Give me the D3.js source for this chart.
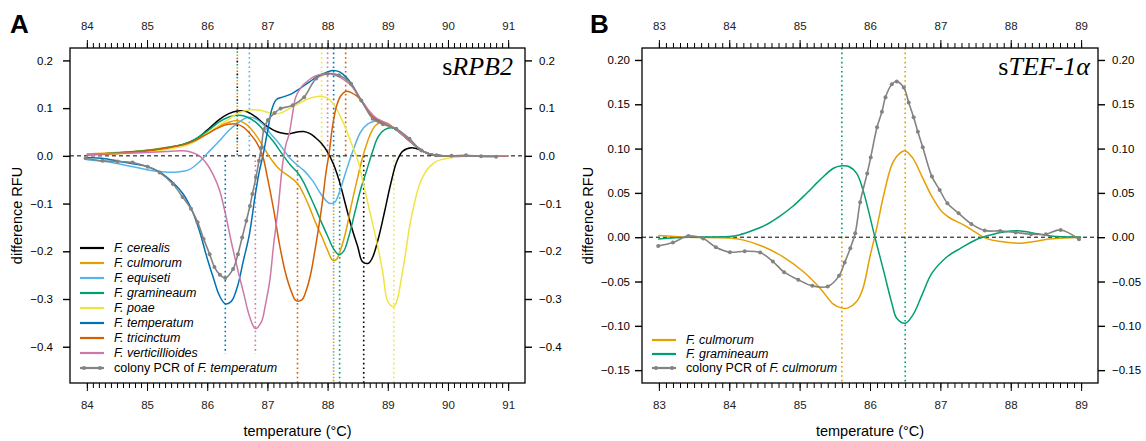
<!DOCTYPE html>
<html>
<head>
<meta charset="utf-8">
<script src="https://cdn.jsdelivr.net/npm/d3@7"></script>
<style>
  body { margin: 0; background: #fff; }
  svg { display: block; }
</style>
</head>
<body>
<div id="chart"></div>
<script>
// ===== 图A (sRPB2) 数据 =====
const axisA_x = d3.range(84, 92);
const axisA_y = [-0.4, -0.3, -0.2, -0.1, 0.0, 0.1, 0.2];
const speciesA = ["cerealis", "culmorum", "equiseti", "gramineaum", "poae", "temperatum", "tricinctum", "verticillioides"];

// 多条曲线共用的尾部
const tailA = [[89.1, 0.058], [89.2, 0.049], [89.3, 0.038], [89.4, 0.027], [89.5, 0.017], [89.6, 0.009],
  [89.7, 0.004], [89.85, 0.001], [90.0, 0.0], [90.5, 0.0], [91.0, 0.0]];

const cerealisA = [[84.0, 0.003], [84.5, 0.006], [85.0, 0.011], [85.3, 0.016], [85.6, 0.024], [85.8, 0.034],
  [86.0, 0.054], [86.2, 0.076], [86.35, 0.088], [86.5, 0.094], [86.65, 0.093], [86.8, 0.082], [86.95, 0.066],
  [87.1, 0.054], [87.2, 0.049], [87.35, 0.046], [87.5, 0.050], [87.6, 0.051], [87.7, 0.047], [87.8, 0.038],
  [87.9, 0.026], [88.0, 0.008], [88.1, -0.018], [88.2, -0.055], [88.3, -0.103], [88.4, -0.150], [88.5, -0.190],
  [88.58, -0.222], [88.68, -0.225], [88.75, -0.212], [88.85, -0.170], [88.95, -0.115], [89.05, -0.058],
  [89.15, -0.012], [89.25, 0.010], [89.4, 0.017], [89.55, 0.012], [89.7, 0.003], [89.9, 0.0], [90.5, 0.0], [91.0, 0.0]];

const culmorumA = [[84.0, 0.004], [84.5, 0.007], [85.0, 0.012], [85.3, 0.017], [85.6, 0.024], [85.8, 0.033],
  [86.0, 0.047], [86.2, 0.062], [86.35, 0.070], [86.5, 0.074], [86.65, 0.066], [86.8, 0.045], [86.95, 0.015],
  [87.05, -0.005], [87.2, -0.028], [87.35, -0.042], [87.5, -0.058], [87.6, -0.080], [87.7, -0.108], [87.8, -0.140],
  [87.9, -0.168], [88.0, -0.198], [88.08, -0.218], [88.14, -0.218], [88.22, -0.195], [88.3, -0.160], [88.4, -0.100],
  [88.5, -0.045], [88.58, -0.004], [88.65, 0.025], [88.72, 0.048], [88.8, 0.064], [88.9, 0.071], [89.0, 0.068]].concat(tailA);

const equisetiA = [[84.0, -0.008], [84.3, -0.012], [84.66, -0.020], [85.0, -0.029], [85.3, -0.034], [85.5, -0.034],
  [85.7, -0.029], [85.85, -0.015], [86.0, 0.005], [86.2, 0.031], [86.35, 0.052], [86.5, 0.068], [86.62, 0.078],
  [86.7, 0.081], [86.8, 0.078], [86.92, 0.067], [87.05, 0.047], [87.2, 0.025], [87.36, -0.003], [87.5, -0.020],
  [87.6, -0.030], [87.75, -0.052], [87.9, -0.082], [88.0, -0.097], [88.05, -0.100], [88.12, -0.097], [88.2, -0.075],
  [88.3, -0.035], [88.42, 0.010], [88.55, 0.050], [88.67, 0.067], [88.8, 0.073], [88.9, 0.071], [89.0, 0.066]].concat(tailA);

const gramineaumA = [[84.0, 0.002], [84.5, 0.006], [85.0, 0.011], [85.3, 0.017], [85.6, 0.024], [85.8, 0.035],
  [86.0, 0.052], [86.2, 0.071], [86.35, 0.081], [86.5, 0.085], [86.65, 0.082], [86.8, 0.071], [86.95, 0.052],
  [87.1, 0.030], [87.25, 0.003], [87.4, -0.022], [87.5, -0.035], [87.6, -0.055], [87.7, -0.082], [87.8, -0.110],
  [87.9, -0.140], [88.0, -0.168], [88.1, -0.195], [88.19, -0.207], [88.27, -0.199], [88.35, -0.170], [88.45, -0.120],
  [88.55, -0.070], [88.65, -0.030], [88.75, 0.010], [88.82, 0.035], [88.9, 0.050], [89.0, 0.058]].concat(tailA);

const poaeA = [[84.0, 0.001], [84.5, 0.004], [85.0, 0.008], [85.3, 0.013], [85.6, 0.020], [85.8, 0.030],
  [86.0, 0.047], [86.2, 0.064], [86.35, 0.076], [86.5, 0.089], [86.65, 0.095], [86.76, 0.0965], [86.9, 0.095],
  [87.05, 0.090], [87.2, 0.089], [87.35, 0.098], [87.5, 0.108], [87.65, 0.118], [87.8, 0.124], [87.9, 0.1245],
  [88.0, 0.121], [88.1, 0.108], [88.2, 0.086], [88.3, 0.058], [88.4, 0.025], [88.5, -0.008], [88.58, -0.050],
  [88.67, -0.100], [88.75, -0.143], [88.85, -0.200], [88.92, -0.247], [89.0, -0.305], [89.1, -0.316],
  [89.16, -0.300], [89.22, -0.261], [89.3, -0.200], [89.36, -0.150], [89.45, -0.095], [89.53, -0.059],
  [89.62, -0.035], [89.7, -0.022], [89.8, -0.012], [89.92, -0.007], [90.1, -0.003], [90.3, -0.001], [91.0, 0.0]];

const temperatumA = [[84.0, -0.0035], [84.3, -0.006], [84.65, -0.014], [85.0, -0.022], [85.2, -0.033],
  [85.43, -0.056], [85.6, -0.080], [85.75, -0.115], [85.87, -0.157], [86.0, -0.215], [86.1, -0.255],
  [86.2, -0.292], [86.3, -0.310], [86.4, -0.305], [86.5, -0.275], [86.6, -0.220], [86.7, -0.165], [86.8, -0.080],
  [86.87, -0.030], [86.93, 0.003], [87.0, 0.050], [87.08, 0.100], [87.15, 0.118], [87.25, 0.123], [87.4, 0.130],
  [87.55, 0.142], [87.7, 0.155], [87.85, 0.168], [88.0, 0.176], [88.09, 0.179], [88.2, 0.176], [88.3, 0.166],
  [88.4, 0.150], [88.5, 0.127], [88.6, 0.108], [88.7, 0.091], [88.8, 0.078], [88.9, 0.071], [89.0, 0.066]].concat(tailA);

const tricinctumA = [[84.0, 0.002], [84.5, 0.005], [85.0, 0.010], [85.3, 0.016], [85.6, 0.023], [85.8, 0.032],
  [86.0, 0.046], [86.2, 0.060], [86.35, 0.066], [86.48, 0.067], [86.6, 0.060], [86.72, 0.045], [86.82, 0.028],
  [86.92, 0.0], [87.0, -0.045], [87.1, -0.110], [87.2, -0.185], [87.3, -0.245], [87.4, -0.285], [87.47, -0.303],
  [87.57, -0.302], [87.65, -0.280], [87.72, -0.247], [87.8, -0.190], [87.86, -0.143], [87.92, -0.090],
  [87.97, -0.038], [88.03, 0.010], [88.08, 0.060], [88.15, 0.105], [88.22, 0.126], [88.3, 0.135], [88.4, 0.132],
  [88.5, 0.124], [88.6, 0.110], [88.7, 0.090], [88.8, 0.076], [88.9, 0.070], [89.0, 0.066]].concat(tailA);

const verticillioidesA = [[84.0, 0.003], [84.5, 0.005], [85.0, 0.007], [85.3, 0.009], [85.6, 0.0105],
  [85.75, 0.007], [85.87, 0.0], [86.0, -0.018], [86.1, -0.040], [86.2, -0.070], [86.3, -0.120], [86.4, -0.180],
  [86.5, -0.235], [86.6, -0.285], [86.7, -0.335], [86.8, -0.362], [86.9, -0.348], [86.97, -0.310], [87.04, -0.261],
  [87.1, -0.190], [87.18, -0.108], [87.25, -0.020], [87.31, 0.025], [87.36, 0.045], [87.42, 0.090], [87.47, 0.123],
  [87.58, 0.147], [87.7, 0.160], [87.81, 0.168], [87.9, 0.171], [88.0, 0.172], [88.1, 0.170], [88.2, 0.165],
  [88.3, 0.157], [88.4, 0.146], [88.5, 0.128], [88.6, 0.110], [88.7, 0.093], [88.8, 0.080], [88.9, 0.073], [89.0, 0.067]].concat(tailA);

// colony PCR (F. temperatum), 带点
const colonyA = [[83.98, -0.005], [84.26, -0.0105], [84.51, -0.012], [84.76, -0.014], [85.01, -0.023],
  [85.21, -0.035], [85.43, -0.059], [85.59, -0.086], [85.73, -0.111], [85.84, -0.139], [85.94, -0.174],
  [86.04, -0.206], [86.12, -0.233], [86.21, -0.249], [86.3, -0.256], [86.43, -0.237], [86.51, -0.206],
  [86.58, -0.171], [86.65, -0.136], [86.71, -0.105], [86.75, -0.080], [86.81, -0.045], [86.86, -0.0105],
  [86.9, 0.017], [86.94, 0.055], [87.01, 0.075], [87.12, 0.090], [87.22, 0.099], [87.42, 0.106], [87.61, 0.123],
  [87.81, 0.162], [88.0, 0.172], [88.19, 0.169], [88.39, 0.151], [88.56, 0.116], [88.75, 0.078], [88.92, 0.066],
  [89.14, 0.057], [89.36, 0.036], [89.56, 0.011], [89.81, 0.001], [90.06, 0.0], [90.3, 0.001], [90.55, -0.001], [90.8, -0.002]];

// 峰位参考线 (温度, 物种)
const peaksUpA = [[86.5, "cerealis"], [86.5, "gramineaum"], [86.5, "culmorum"], [86.5, "tricinctum"],
  [86.7, "equiseti"], [87.9, "poae"], [88.0, "verticillioides"], [88.1, "temperatum"], [88.3, "tricinctum"]];
const peaksDownA = [[86.3, "temperatum", -0.415], [86.8, "verticillioides", -0.415], [87.5, "tricinctum"],
  [88.1, "culmorum"], [88.1, "equiseti"], [88.2, "gramineaum"], [88.6, "cerealis"], [89.1, "poae"]];

// ===== 图B (sTEF-1α) 数据 =====
const axisB_x = d3.range(83, 90);
const axisB_y = [-0.15, -0.10, -0.05, 0.00, 0.05, 0.10, 0.15, 0.20];
const speciesB = ["culmorum", "gramineaum"];

const culmorumB = [[82.99, 0.0019], [83.42, 0.0], [84.0, -0.001], [84.19, -0.003], [84.48, -0.0105],
  [84.76, -0.0218], [85.05, -0.0387], [85.29, -0.0575], [85.48, -0.0756], [85.6, -0.080], [85.69, -0.0797],
  [85.81, -0.0726], [85.9, -0.0575], [86.0, -0.0218], [86.1, 0.012], [86.19, 0.0459], [86.31, 0.0816],
  [86.4, 0.0929], [86.5, 0.0974], [86.61, 0.089], [86.74, 0.0684], [86.88, 0.0459], [87.02, 0.029],
  [87.14, 0.0214], [87.33, 0.0139], [87.52, 0.0045], [87.67, -0.0019], [87.86, -0.0049], [88.1, -0.0068],
  [88.33, -0.0049], [88.52, -0.0023], [88.76, -0.001], [89.0, 0.0]];

const gramineaumB = [[82.99, -0.0019], [83.42, 0.0], [84.0, 0.0008], [84.14, 0.0026], [84.33, 0.0075],
  [84.52, 0.0139], [84.71, 0.0233], [84.9, 0.0346], [85.1, 0.0496], [85.29, 0.0647], [85.48, 0.0778],
  [85.6, 0.0805], [85.69, 0.080], [85.81, 0.072], [85.9, 0.0534], [86.07, 0.0], [86.19, -0.0368],
  [86.31, -0.0744], [86.38, -0.0914], [86.5, -0.097], [86.61, -0.0876], [86.74, -0.065], [86.88, -0.0406],
  [87.1, -0.0218], [87.29, -0.0124], [87.52, -0.0023], [87.71, 0.0026], [87.9, 0.006], [88.14, 0.0071],
  [88.38, 0.0038], [88.57, 0.0015], [89.0, 0.0]];

// colony PCR (F. culmorum)
const colonyB = [[82.99, -0.0098], [83.2, -0.006], [83.42, 0.0015], [83.63, -0.0015], [83.81, -0.0113],
  [84.01, -0.0169], [84.22, -0.0158], [84.44, -0.0173], [84.62, -0.0274], [84.78, -0.0395], [84.98, -0.048],
  [85.18, -0.0549], [85.4, -0.0556], [85.56, -0.0436], [85.64, -0.0286], [85.72, -0.0124], [85.79, 0.0045],
  [85.86, 0.0395], [85.96, 0.072], [86.01, 0.090], [86.1, 0.124], [86.17, 0.1417], [86.22, 0.158],
  [86.31, 0.1726], [86.38, 0.1756], [86.48, 0.1688], [86.55, 0.152], [86.62, 0.1353], [86.68, 0.119],
  [86.75, 0.1015], [86.88, 0.0684], [86.99, 0.0534], [87.1, 0.0383], [87.26, 0.027], [87.44, 0.015],
  [87.63, 0.0075], [87.85, 0.0071], [88.07, 0.0053], [88.29, 0.0034], [88.5, 0.0034], [88.71, 0.0082], [88.97, -0.0023]];

const peaksUpB = [[85.6, "gramineaum"], [86.5, "culmorum"]];
const peaksDownB = [[85.6, "culmorum"], [86.5, "gramineaum"]];

// 颜色 (Okabe-Ito)
const COLORS = {
  cerealis: "#000000", culmorum: "#E69F00", equiseti: "#56B4E9", gramineaum: "#009E73",
  poae: "#F0E442", temperatum: "#0072B2", tricinctum: "#D55E00", verticillioides: "#CC79A7",
  colony: "#838383"
};

const FONT = "'Liberation Sans', Arial, Helvetica, sans-serif";
const SERIF = "'Liberation Serif', 'Times New Roman', serif";

const MeltChart = {
  svg: null,

  init() {
    d3.select("#chart").selectAll("*").remove();
    this.svg = d3.select("#chart").append("svg")
      .attr("width", 1146)
      .attr("height", 441)
      .style("font-family", FONT);

    this.drawPanel({
      letter: "A", letterX: 10, yTitleX: 22,
      left: 70, right: 525, top: 48, bottom: 383,
      xDomain: [83.72, 91.28], yDomain: [-0.476, 0.226],
      xTicks: axisA_x, yTicks: axisA_y, yFmt: d3.format(".1f"),
      padLeft: 10, padRight: 7,
      titlePre: "s", titleIt: "RPB2", titleX: 513,
      species: speciesA,
      series: {
        cerealis: cerealisA, culmorum: culmorumA, equiseti: equisetiA, gramineaum: gramineaumA,
        poae: poaeA, temperatum: temperatumA, tricinctum: tricinctumA, verticillioides: verticillioidesA
      },
      colony: colonyA, colonyName: "F. temperatum",
      peaksUp: peaksUpA, peaksDown: peaksDownA,
      legendY: 248, legendStep: 15
    });

    this.drawPanel({
      letter: "B", letterX: 590, yTitleX: 593,
      left: 642, right: 1098, top: 48, bottom: 383,
      xDomain: [82.76, 89.24], yDomain: [-0.1645, 0.2135],
      xTicks: axisB_x, yTicks: axisB_y, yFmt: d3.format(".2f"),
      padLeft: 5, padRight: 7,
      titlePre: "s", titleIt: "TEF-1\u03B1", titleX: 1090,
      species: speciesB,
      series: { culmorum: culmorumB, gramineaum: gramineaumB },
      colony: colonyB, colonyName: "F. culmorum",
      peaksUp: peaksUpB, peaksDown: peaksDownB,
      legendY: 340, legendStep: 14
    });
  },

  drawPanel(p) {
    const svg = this.svg;
    const x = d3.scaleLinear().domain(p.xDomain).range([p.left, p.right]);
    const y = d3.scaleLinear().domain(p.yDomain).range([p.bottom, p.top]);
    const g = svg.append("g");

    // 面板字母
    svg.append("text")
      .attr("x", p.letterX).attr("y", 33)
      .attr("font-size", "26px").attr("font-weight", "bold")
      .text(p.letter);

    // 峰位虚线：上方 (顶部到0) 和下方 (0到底部)
    const drawPeaks = (list, up) => {
      const counts = {};
      list.forEach(([t, sp, end]) => {
        const k = t.toFixed(2);
        const idx = counts[k] || 0;
        counts[k] = idx + 1;
        const n = list.filter(d => d[0].toFixed(2) === k).length;
        const y1 = up ? p.top : y(0);
        const y2 = up ? y(0) : (end !== undefined ? y(end) : p.bottom);
        g.append("line")
          .attr("x1", x(t)).attr("x2", x(t))
          .attr("y1", y1).attr("y2", y2)
          .attr("stroke", COLORS[sp])
          .attr("stroke-width", 1.6)
          .attr("stroke-dasharray", n > 1 ? `1.6,${3.2 * n - 1.6}` : "1.6,3")
          .attr("stroke-dashoffset", -idx * 3.2);
      });
    };
    drawPeaks(p.peaksUp, true);
    drawPeaks(p.peaksDown, false);

    // 零线
    g.append("line")
      .attr("x1", p.left).attr("x2", p.right)
      .attr("y1", y(0)).attr("y2", y(0))
      .attr("stroke", "#000").attr("stroke-width", 1)
      .attr("stroke-dasharray", "4,3");

    // 曲线
    const line = d3.line()
      .x(d => x(d[0]))
      .y(d => y(d[1]))
      .curve(d3.curveCatmullRom.alpha(0.5));

    p.species.forEach(sp => {
      g.append("path")
        .datum(p.series[sp])
        .attr("fill", "none")
        .attr("stroke", COLORS[sp])
        .attr("stroke-width", 1.5)
        .attr("d", line);
    });

    // colony PCR 曲线 + 点
    g.append("path")
      .datum(p.colony)
      .attr("fill", "none")
      .attr("stroke", COLORS.colony)
      .attr("stroke-width", 1.6)
      .attr("d", line);
    g.selectAll("circle.colony")
      .data(p.colony)
      .enter()
      .append("circle")
      .attr("class", "colony")
      .attr("cx", d => x(d[0]))
      .attr("cy", d => y(d[1]))
      .attr("r", 2)
      .attr("fill", COLORS.colony);

    // 外框
    g.append("rect")
      .attr("x", p.left).attr("y", p.top)
      .attr("width", p.right - p.left).attr("height", p.bottom - p.top)
      .attr("fill", "none").attr("stroke", "#000").attr("stroke-width", 1.3);

    // x 轴 (上下, 主刻度 + 0.1 次刻度)
    const minor = d3.range(p.xTicks[0] * 10, p.xTicks[p.xTicks.length - 1] * 10 + 1).map(d => d / 10);
    const addX = (axisFn, yPos) => {
      const gm = svg.append("g").attr("transform", `translate(0,${yPos})`)
        .call(axisFn(x).tickValues(minor).tickSize(5).tickFormat(""));
      gm.select(".domain").remove();
      const gM = svg.append("g").attr("transform", `translate(0,${yPos})`)
        .call(axisFn(x).tickValues(p.xTicks).tickSizeInner(8).tickSizeOuter(0).tickPadding(10).tickFormat(d3.format("d")));
      gM.select(".domain").remove();
      [gm, gM].forEach(a => a.selectAll("line").attr("stroke", "#000").attr("stroke-width", 1));
      gM.selectAll("text").attr("font-size", "11.5px").attr("font-family", FONT).attr("fill", "#222");
    };
    addX(d3.axisTop, p.top);
    addX(d3.axisBottom, p.bottom);

    // y 轴 (左右)
    const addY = (axisFn, xPos, pad) => {
      const a = svg.append("g").attr("transform", `translate(${xPos},0)`)
        .call(axisFn(y).tickValues(p.yTicks).tickSizeInner(7).tickSizeOuter(0).tickPadding(pad).tickFormat(p.yFmt));
      a.select(".domain").remove();
      a.selectAll("line").attr("stroke", "#000").attr("stroke-width", 1.4);
      a.selectAll("text").attr("font-size", "11.5px").attr("font-family", FONT).attr("fill", "#000");
    };
    addY(d3.axisLeft, p.left, p.padLeft);
    addY(d3.axisRight, p.right, p.padRight);

    // 轴标题
    svg.append("text")
      .attr("x", (p.left + p.right) / 2).attr("y", 436)
      .attr("text-anchor", "middle").attr("font-size", "14.5px")
      .text("temperature (\u00B0C)");
    svg.append("text")
      .attr("transform", `translate(${p.yTitleX},${(p.top + p.bottom) / 2}) rotate(-90)`)
      .attr("text-anchor", "middle").attr("font-size", "14.5px")
      .text("difference RFU");

    // 面板标题
    const title = svg.append("text")
      .attr("x", p.titleX).attr("y", 75)
      .attr("text-anchor", "end")
      .attr("font-family", SERIF).attr("font-size", "26px");
    title.append("tspan").attr("font-style", "normal").text(p.titlePre);
    title.append("tspan").attr("font-style", "italic").text(p.titleIt);

    // 图例
    const lx = p.left + 10;
    const entries = p.species.map(sp => ({ key: sp, color: COLORS[sp] }));
    entries.push({ key: "colony", color: COLORS.colony });
    entries.forEach((e, i) => {
      const ly = p.legendY + i * p.legendStep;
      svg.append("line")
        .attr("x1", lx).attr("x2", lx + 24)
        .attr("y1", ly).attr("y2", ly)
        .attr("stroke", e.color).attr("stroke-width", 2.2);
      const t = svg.append("text")
        .attr("x", lx + 34).attr("y", ly)
        .attr("dy", "0.35em").attr("font-size", "12.5px");
      if (e.key === "colony") {
        svg.selectAll(null).data([lx + 4, lx + 20]).enter().append("circle")
          .attr("cx", d => d).attr("cy", ly).attr("r", 2).attr("fill", e.color);
        t.append("tspan").text("colony PCR of ");
        t.append("tspan").attr("font-style", "italic").text(p.colonyName);
      } else {
        t.append("tspan").attr("font-style", "italic").text("F. " + e.key);
      }
    });
  }
};

MeltChart.init();
</script>
</body>
</html>
